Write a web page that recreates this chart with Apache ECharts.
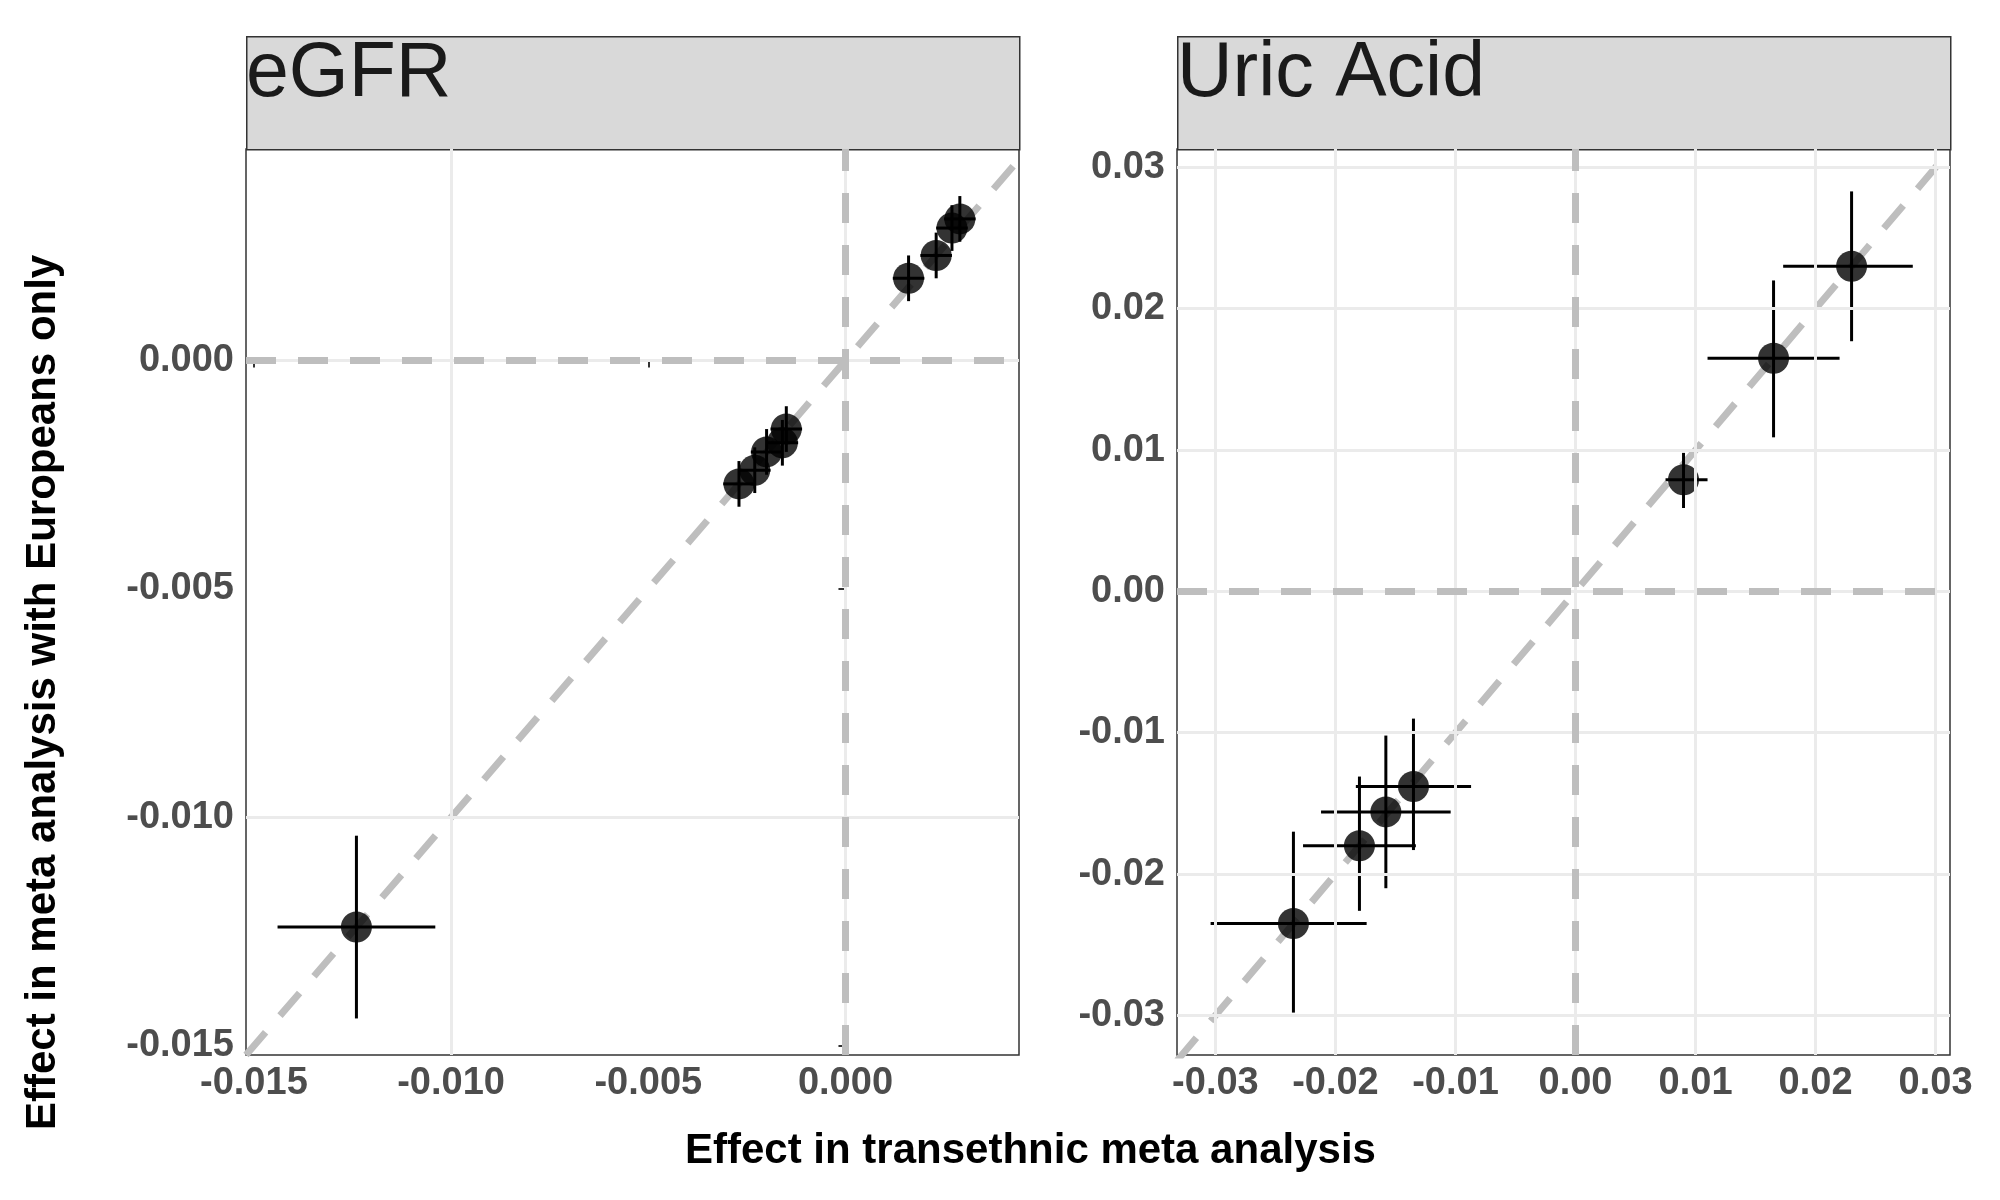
<!DOCTYPE html>
<html><head><meta charset="utf-8">
<script src="https://cdn.jsdelivr.net/npm/echarts@6/dist/echarts.min.js"></script>
<style>html,body{margin:0;background:#fff}#c{width:2000px;height:1200px}</style>
</head><body><div id="c"></div>
<script>
// eGFR panel: x, y, x low/high, y low/high
const egfrX    = [-0.0124, -0.0027, -0.0023, -0.0020, -0.0016, -0.0015, 0.0016, 0.0023, 0.0027, 0.0029];
const egfrY    = [-0.0124, -0.0027, -0.0024, -0.0020, -0.0018, -0.0015, 0.0018, 0.0023, 0.0029, 0.0031];
const egfrXErr = [0.0020, 0.0004, 0.0004, 0.0004, 0.0004, 0.0004, 0.0004, 0.0004, 0.0004, 0.0004];
const egfrYErr = [0.0020, 0.0005, 0.0005, 0.0005, 0.0005, 0.0005, 0.0005, 0.0005, 0.0005, 0.0005];
// Uric acid panel
const uricX  = [-0.0235, -0.0180, -0.0158, -0.0135, 0.0090, 0.0165, 0.0230];
const uricY  = [-0.0235, -0.0180, -0.0156, -0.0138, 0.0079, 0.0165, 0.0230];
const uricXLo = [-0.0304, -0.0227, -0.0212, -0.0183, 0.0075, 0.0110, 0.0173];
const uricXHi = [-0.0174, -0.0133, -0.0104, -0.0087, 0.0110, 0.0220, 0.0281];
const uricYLo = [-0.0298, -0.0226, -0.0210, -0.0183, 0.0059, 0.0109, 0.0177];
const uricYHi = [-0.0170, -0.0131, -0.0102, -0.0090, 0.0098, 0.0220, 0.0283];

const egfrXTicks = [-0.015, -0.010, -0.005, 0.000];
const egfrYTicks = [-0.015, -0.010, -0.005, 0.000];
const egfrXMinor = [-0.0125, -0.0075, -0.0025, 0.0025];
const egfrYMinor = [-0.0125, -0.0075, -0.0025, 0.0025];
const uricTicks = [-0.03, -0.02, -0.01, 0.00, 0.01, 0.02, 0.03];
const uricMinor = [-0.025, -0.015, -0.005, 0.005, 0.015, 0.025];

const egfrXRange = [-0.0152, 0.0044], egfrYRange = [-0.0152, 0.00463];
const uricXRange = [-0.0332, 0.0312], uricYRange = [-0.0328, 0.0313];

const chart = echarts.init(document.getElementById('c'));
const font = 'Liberation Sans';

function axis(range, ticks, dec, isX, idx) {
  return {
    type: 'value', gridIndex: idx, min: range[0], max: range[1], scale: true,
    axisLine: {show: false},
    axisTick: {show: true, customValues: ticks, length: 7, lineStyle: {color: '#333', width: 2}},
    axisLabel: {customValues: ticks, formatter: v => v.toFixed(dec), color: '#4d4d4d',
      fontFamily: font, fontWeight: 'bold', fontSize: 38, margin: isX ? 10 : 12},
    splitLine: {show: false}
  };
}

function gridLines(idx, xMaj, xMin, yMaj, yMin) {
  const d = [];
  xMin.forEach(v => d.push({xAxis: v, lineStyle: {color: '#f2f2f2', width: 1.5, type: 'solid'}}));
  yMin.forEach(v => d.push({yAxis: v, lineStyle: {color: '#f2f2f2', width: 1.5, type: 'solid'}}));
  xMaj.forEach(v => d.push({xAxis: v, lineStyle: {color: '#ebebeb', width: 3, type: 'solid'}}));
  yMaj.forEach(v => d.push({yAxis: v, lineStyle: {color: '#ebebeb', width: 3, type: 'solid'}}));
  d.push({xAxis: 0, lineStyle: {color: '#bebebe', width: 7, type: [30, 22]}});
  d.push({yAxis: 0, lineStyle: {color: '#bebebe', width: 7, type: [30, 22]}});
  return {type: 'line', xAxisIndex: idx, yAxisIndex: idx, data: [], z: 1, silent: true,
    markLine: {silent: true, symbol: 'none', label: {show: false}, data: d}};
}

function diag(idx, lo, hi) {
  return {type: 'line', xAxisIndex: idx, yAxisIndex: idx, data: [[lo, lo], [hi, hi]], symbol: 'none',
    z: 2, silent: true, lineStyle: {color: '#bebebe', width: 7, type: [30, 22]}};
}

function errBars(idx, rows) {
  return {type: 'custom', xAxisIndex: idx, yAxisIndex: idx, data: rows, z: 3, clip: true,
    renderItem: (p, api) => {
      const x = api.value(0), y = api.value(1);
      const a = api.coord([api.value(2), y]), b = api.coord([api.value(3), y]);
      const c = api.coord([x, api.value(4)]), e = api.coord([x, api.value(5)]);
      const st = {stroke: '#000', lineWidth: 3};
      return {type: 'group', children: [
        {type: 'line', shape: {x1: a[0], y1: a[1], x2: b[0], y2: b[1]}, style: st},
        {type: 'line', shape: {x1: c[0], y1: c[1], x2: e[0], y2: e[1]}, style: st}]};
    }};
}

function pts(idx, xs, ys) {
  return {type: 'scatter', xAxisIndex: idx, yAxisIndex: idx, data: xs.map((v, i) => [v, ys[i]]),
    symbolSize: 31, itemStyle: {color: '#000'}, z: 4};
}

const egfrRows = egfrX.map((v, i) => [v, egfrY[i], v - egfrXErr[i], v + egfrXErr[i], egfrY[i] - egfrYErr[i], egfrY[i] + egfrYErr[i]]);
const uricRows = uricX.map((v, i) => [v, uricY[i], uricXLo[i], uricXHi[i], uricYLo[i], uricYHi[i]]);

const strip = (left, text) => ([
  {type: 'rect', left: left, top: 36, shape: {width: 773, height: 113},
    style: {fill: '#d9d9d9', stroke: '#333', lineWidth: 1.5}},
  {type: 'text', left: left, top: 36, style: {text: text, width: 773, height: 113, x: 386, y: 56,
    align: 'center', verticalAlign: 'middle', fontSize: 77, fontFamily: font, fill: '#1a1a1a'}}
]);

chart.setOption({
  animation: false,
  grid: [
    {left: 246, width: 773, top: 149, bottom: 145, show: true, borderColor: '#333', borderWidth: 1.5, backgroundColor: '#fff'},
    {left: 1177, width: 773, top: 149, bottom: 145, show: true, borderColor: '#333', borderWidth: 1.5, backgroundColor: '#fff'}
  ],
  xAxis: [axis(egfrXRange, egfrXTicks, 3, true, 0), axis(uricXRange, uricTicks, 2, true, 1)],
  yAxis: [axis(egfrYRange, egfrYTicks, 3, false, 0), axis(uricYRange, uricTicks, 2, false, 1)],
  series: [
    gridLines(0, egfrXTicks, egfrXMinor, egfrYTicks, egfrYMinor),
    gridLines(1, uricTicks, uricMinor, uricTicks, uricMinor),
    diag(0, -0.0152, 0.0044), diag(1, -0.0332, 0.0313),
    errBars(0, egfrRows), errBars(1, uricRows),
    pts(0, egfrX, egfrY), pts(1, uricX, uricY)
  ],
  graphic: [
    ...strip(246, 'eGFR'), ...strip(1177, 'Uric Acid'),
    {type: 'text', left: 685, top: 1130, style: {text: 'Effect in transethnic meta analysis',
      fontSize: 42, fontWeight: 'bold', fontFamily: font, fill: '#000'}},
    {type: 'text', x: 22, y: 1130, rotation: Math.PI / 2, originX: 0, originY: 0,
      style: {text: 'Effect in meta analysis with Europeans only', fontSize: 42, fontWeight: 'bold',
        fontFamily: font, fill: '#000', align: 'left', verticalAlign: 'top'}}
  ]
});
</script></body></html>
